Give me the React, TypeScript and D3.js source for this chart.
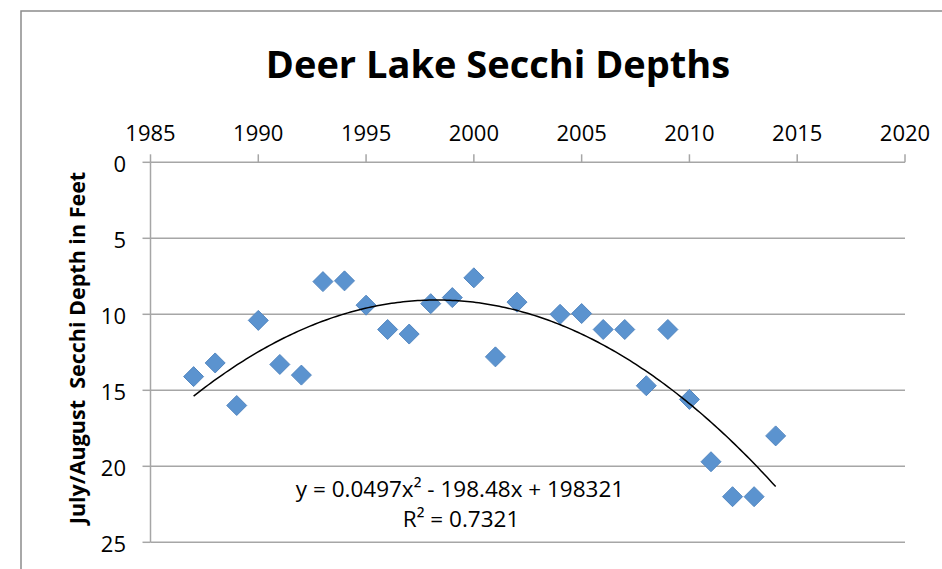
import React from "react";
import * as d3 from "d3";

const years: number[] = [1987, 1988, 1989, 1990, 1991, 1992, 1993, 1994, 1995, 1996, 1997, 1998, 1999, 2000, 2001, 2002, 2004, 2005, 2006, 2007, 2008, 2009, 2010, 2011, 2012, 2013, 2014];
const depths: number[] = [14.1, 13.2, 16.0, 10.4, 13.3, 14.0, 7.85, 7.8, 9.4, 11.0, 11.3, 9.3, 8.9, 7.6, 12.8, 9.2, 10.0, 9.95, 11.0, 11.0, 14.7, 11.0, 15.6, 19.7, 22.0, 22.0, 18.0];
const xTicks: number[] = [1985, 1990, 1995, 2000, 2005, 2010, 2015, 2020];
const yTicks: number[] = [0, 5, 10, 15, 20, 25];
const title = "Deer Lake Secchi Depths";
const yTitle = "July/August  Secchi Depth in Feet";
const equation = "y = 0.0497x² - 198.48x + 198321";
const rSquared = "R² = 0.7321";

// least-squares quadratic fit (centered x) for the trendline
function fitQuadratic(xs: number[], ys: number[]) {
  const mx = d3.mean(xs) as number;
  const n = xs.length;
  let s1 = 0, s2 = 0, s3 = 0, s4 = 0, t0 = 0, t1 = 0, t2 = 0;
  xs.forEach((x0, i) => {
    const x = x0 - mx;
    const y = ys[i];
    s1 += x; s2 += x * x; s3 += x * x * x; s4 += x * x * x * x;
    t0 += y; t1 += x * y; t2 += x * x * y;
  });
  const M = [
    [n, s1, s2, t0],
    [s1, s2, s3, t1],
    [s2, s3, s4, t2],
  ];
  for (let i = 0; i < 3; i++) {
    let p = i;
    for (let r = i + 1; r < 3; r++) if (Math.abs(M[r][i]) > Math.abs(M[p][i])) p = r;
    [M[i], M[p]] = [M[p], M[i]];
    for (let r = 0; r < 3; r++) {
      if (r === i) continue;
      const f = M[r][i] / M[i][i];
      for (let c = i; c < 4; c++) M[r][c] -= f * M[i][c];
    }
  }
  const c0 = M[0][3] / M[0][0];
  const b = M[1][3] / M[1][1];
  const a = M[2][3] / M[2][2];
  return (x: number) => {
    const u = x - mx;
    return c0 + b * u + a * u * u;
  };
}

const FONT = "'Open Sans', 'Liberation Sans', Arial, sans-serif";

export default function App() {
  const W = 942, H = 569;
  const x = d3.scaleLinear().domain([1985, 2020]).range([150.5, 905]);
  const y = d3.scaleLinear().domain([0, 25]).range([162.3, 542.3]);
  const f = fitQuadratic(years, depths);
  const x0 = d3.min(years) as number;
  const x1 = d3.max(years) as number;
  const samples = d3.range(0, 201).map((i) => x0 + ((x1 - x0) * i) / 200);
  const line = d3
    .line<number>()
    .x((d) => x(d))
    .y((d) => y(f(d)))
    .curve(d3.curveLinear);
  const gridColor = "#a6a6a6";
  const r = 10;
  const diamond = (cx: number, cy: number) =>
    `M${cx},${cy - r}L${cx + r},${cy}L${cx},${cy + r}L${cx - r},${cy}Z`;

  return (
    <svg
      width={W}
      height={H}
      style={{ position: "absolute", left: 0, top: 0, background: "#fff" }}
      fontFamily={FONT}
    >
      <rect x={0} y={0} width={W} height={H} fill="#fff" />
      <rect x={21} y={11} width={W} height={H} fill="#fff" stroke="#8c8c8c" strokeWidth={1.5} />
      <text x={498} y={78} textAnchor="middle" fontSize={38} fontWeight="bold" fill="#000">
        {title}
      </text>

      {/* gridlines */}
      {yTicks.filter((t) => t > 0).map((t) => (
        <line key={"g" + t} x1={x(1985)} x2={x(2020)} y1={y(t)} y2={y(t)} stroke={gridColor} strokeWidth={1.5} />
      ))}

      {/* top x axis */}
      <line x1={x(1985)} x2={x(2020)} y1={y(0)} y2={y(0)} stroke={gridColor} strokeWidth={1.5} />
      {xTicks.map((t) => (
        <g key={"x" + t}>
          <line x1={x(t)} x2={x(t)} y1={y(0) - 8} y2={y(0)} stroke={gridColor} strokeWidth={1.5} />
          <text x={x(t)} y={141} textAnchor="middle" fontSize={22} fill="#000">
            {t}
          </text>
        </g>
      ))}

      {/* left y axis */}
      <line x1={x(1985)} x2={x(1985)} y1={y(0)} y2={y(25)} stroke={gridColor} strokeWidth={1.5} />
      {yTicks.map((t) => (
        <g key={"y" + t}>
          <line x1={x(1985) - 8} x2={x(1985)} y1={y(t)} y2={y(t)} stroke={gridColor} strokeWidth={1.5} />
          <text x={126} y={y(t) + 10} textAnchor="end" fontSize={22} fill="#000">
            {t}
          </text>
        </g>
      ))}

      <text
        transform={`translate(85,${348}) rotate(-90)`}
        textAnchor="middle"
        fontSize={21.5}
        fontWeight="bold"
        fill="#000"
        style={{ whiteSpace: "pre" }}
      >
        {yTitle}
      </text>

      {/* points */}
      {years.map((yr, i) => (
        <path
          key={"p" + yr}
          d={diamond(x(yr), y(depths[i]))}
          fill="#5b93cf"
          stroke="#5487c0"
          strokeWidth={1}
        />
      ))}

      {/* trendline */}
      <path d={line(samples) || ""} fill="none" stroke="#000" strokeWidth={1.5} />

      <text x={460} y={497} textAnchor="middle" fontSize={22.5} fill="#000">
        {equation}
      </text>
      <text x={461} y={527} textAnchor="middle" fontSize={22.5} fill="#000">
        {rSquared}
      </text>
    </svg>
  );
}
